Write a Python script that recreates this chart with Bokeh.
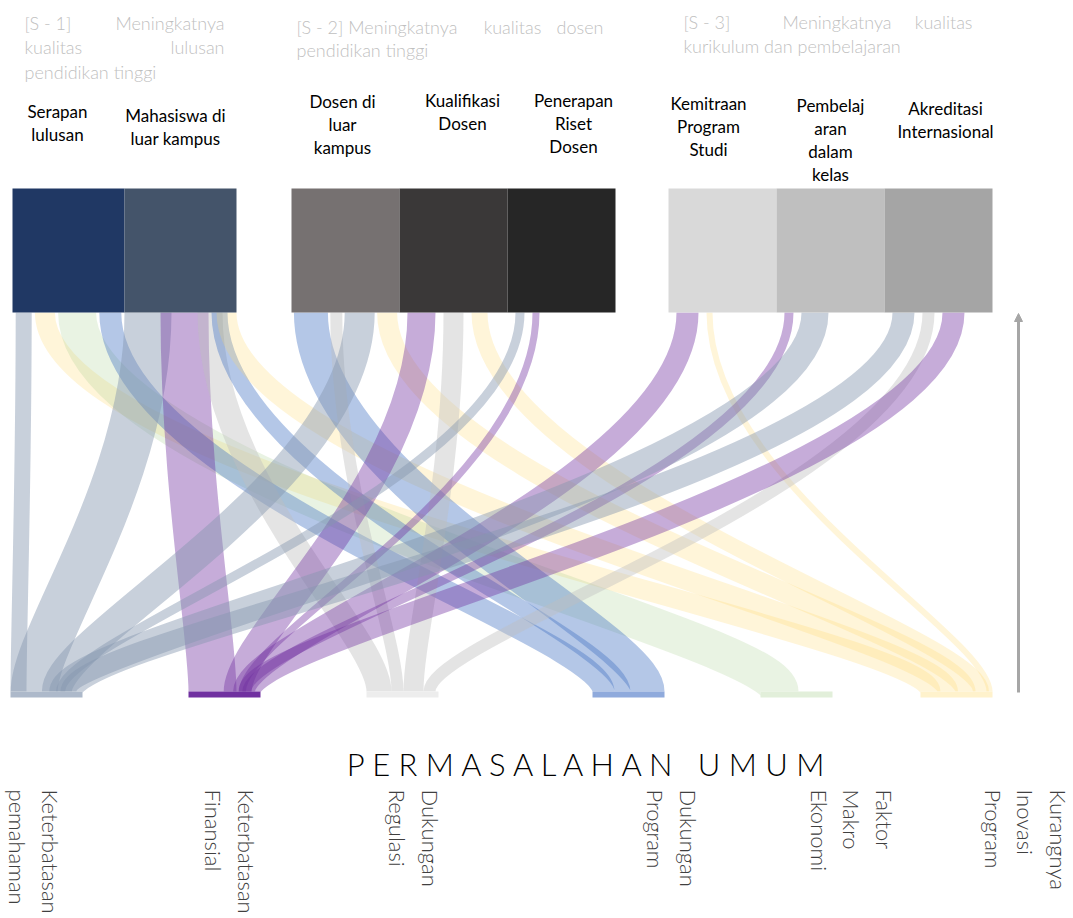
import numpy as np
from bokeh.plotting import figure
from bokeh.models import Range1d, ColumnDataSource, Arrow, NormalHead
from bokeh.core.properties import value
from bokeh.embed import file_html
from bokeh.resources import INLINE

# ---------------- data ----------------
group_titles = [
    "[S - 1] Meningkatnya kualitas lulusan pendidikan tinggi",
    "[S - 2] Meningkatnya kualitas dosen pendidikan tinggi",
    "[S - 3] Meningkatnya kualitas kurikulum dan pembelajaran",
]
sources = ["Serapan\nlulusan", "Mahasiswa di\nluar kampus", "Dosen di\nluar\nkampus",
           "Kualifikasi\nDosen", "Penerapan\nRiset\nDosen", "Kemitraan\nProgram\nStudi",
           "Pembelaj\naran\ndalam\nkelas", "Akreditasi\nInternasional"]
source_group = [0, 0, 1, 1, 1, 2, 2, 2]
targets = ["Keterbatasan\npemahaman", "Keterbatasan\nFinansial", "Dukungan\nRegulasi",
           "Dukungan\nProgram", "Faktor\nMakro\nEkonomi", "Kurangnya\nInovasi\nProgram"]
axis_title = "P E R M A S A L A H A N\u00a0\u00a0 U M U M"

link_source = [0, 0, 0, 0, 1, 1, 1, 1, 1, 2, 2, 2, 2, 3, 3, 3, 4, 4, 5, 5, 6, 6, 7, 7, 7]
link_target = [0, 5, 4, 3, 0, 1, 2, 3, 5, 3, 2, 0, 5, 1, 2, 5, 0, 1, 1, 5, 1, 0, 0, 2, 1]
link_value  = [16, 20, 38, 22, 47, 48, 25, 16, 20, 34, 12, 30, 20, 28, 20, 16, 9, 7, 22, 6, 9, 27, 22, 12, 22]

# ---------------- styles / layout ----------------
source_colors = ["#203864", "#44546a", "#767171", "#3a3838", "#262626", "#d9d9d9", "#bfbfbf", "#a5a5a5"]
target_bar_colors = ["#adb9ca", "#7030a0", "#ededed", "#8faadc", "#e2efda", "#fff2cc"]
ribbon_colors = ["#8497b0", "#7030a0", "#bfbfbf", "#4472c4", "#a9d18e", "#ffd966"]
ribbon_alpha = [0.45, 0.4, 0.42, 0.4, 0.25, 0.25]

W, H = 1072, 917
SRC_TOP, SRC_BOT = 188, 312
TGT_TOP, TGT_BOT = 691, 697
group_x0 = [12, 291, 668]
group_node_w = [112, 108, 108]
target_x0 = [10, 188, 366, 592, 760, 920]
target_w = 72
SCALE = 1.0
MAX_GAP = 8
label_x = [57, 175, 342, 462, 573, 708, 830, 945]
label_top = [100, 104, 90, 89, 89, 92, 94, 97]
target_label_x = [63, 259, 443, 701, 897, 1071]

# node x positions
src_x0 = []
counter = {}
for i, g in enumerate(source_group):
    k = counter.get(g, 0)
    src_x0.append(group_x0[g] + k * group_node_w[g])
    counter[g] = k + 1
src_w = [group_node_w[g] for g in source_group]


def distribute(x0, w, vals, flush_left=False):
    tot = sum(vals)
    n = len(vals)
    if n == 1 or (tot <= w and flush_left):
        gap, x = 0.0, x0
    elif tot <= w:
        gap = min((w - tot) / (n + 1), MAX_GAP)
        x = x0 + gap
    else:
        gap = (w - tot) / (n - 1)
        x = x0
    out = []
    for v in vals:
        out.append(x + v / 2)
        x += v + gap
    return out


n_links = len(link_value)
widths = [v * SCALE for v in link_value]
xs = [0.0] * n_links
xt = [0.0] * n_links
for s in range(len(sources)):
    idx = [i for i in range(n_links) if link_source[i] == s]
    cs = distribute(src_x0[s], src_w[s], [widths[i] for i in idx])
    for i, c in zip(idx, cs):
        xs[i] = c
for t in range(len(targets)):
    idx = [i for i in range(n_links) if link_target[i] == t]
    idx.sort(key=lambda i: xs[i])
    ct = distribute(target_x0[t], target_w, [widths[i] for i in idx], flush_left=True)
    for i, c in zip(idx, ct):
        xt[i] = c

links = ColumnDataSource(dict(
    x0=xs, y0=[SRC_BOT] * n_links, x1=xt, y1=[TGT_TOP] * n_links,
    cx0=xs, cy0=[SRC_BOT + 0.45 * (TGT_TOP - SRC_BOT)] * n_links,
    cx1=xt, cy1=[TGT_TOP - 0.15 * (TGT_TOP - SRC_BOT)] * n_links,
    w=widths,
    color=[ribbon_colors[t] for t in link_target],
    alpha=[ribbon_alpha[t] for t in link_target],
))

p = figure(width=W, height=H, x_range=Range1d(0, W), y_range=Range1d(H, 0),
           output_backend="svg", toolbar_location=None, x_axis_type=None, y_axis_type=None,
           min_border=0)
p.grid.visible = False
p.outline_line_color = None

# ribbons
p.bezier(x0="x0", y0="y0", x1="x1", y1="y1", cx0="cx0", cy0="cy0", cx1="cx1", cy1="cy1",
         line_width="w", line_color="color", line_alpha="alpha", source=links)

# source nodes
p.quad(left=src_x0, right=[a + b for a, b in zip(src_x0, src_w)], top=SRC_TOP, bottom=SRC_BOT,
       fill_color=source_colors, line_color=None)
# target bars
p.quad(left=target_x0, right=[a + target_w for a in target_x0], top=TGT_TOP, bottom=TGT_BOT,
       fill_color=target_bar_colors, line_color=None)

# arrow
p.add_layout(Arrow(x_start=1018, y_start=692, x_end=1018, y_end=313, line_color="#a6a6a6",
                   line_width=3, end=NormalHead(size=8, fill_color="#a6a6a6", line_color="#a6a6a6")))

LIGHT = value("'Lato Light', Lato")
# source labels
p.text(x=label_x, y=label_top, text=sources,
       text_align="center", text_baseline="top", text_font=value("Lato"),
       text_font_size="17px", text_line_height=1.1, text_color="black")

# group titles (justified lines approximated)
words = [t.split(" ") for t in group_titles]
hdr = [
    (" ".join(words[0][0:3]), 24, 22, "left"), (words[0][3], 224, 22, "right"),
    (words[0][4], 24, 46, "left"), (words[0][5], 224, 46, "right"),
    (" ".join(words[0][6:]), 24, 71, "left"),
    (" ".join(words[1][0:4]), 296, 26, "left"), (words[1][4], 512, 26, "center"),
    (words[1][5], 603, 26, "right"),
    (" ".join(words[1][6:]), 296, 49, "left"),
    (" ".join(words[2][0:3]), 683, 21, "left"), (words[2][3], 782, 21, "left"),
    (words[2][4], 972, 21, "right"), (" ".join(words[2][5:]), 683, 45, "left"),
]
for txt, x, y, al in hdr:
    p.text(x=[x], y=[y], text=[txt], text_align=al, text_baseline="middle", text_font=LIGHT,
           text_font_size="18px", text_color="#bfbfbf")

# axis title
p.text(x=[590], y=[763], text=[axis_title], text_align="center", text_baseline="middle",
       text_font=LIGHT, text_font_size="31px", text_color="black")

# target labels (rotated)
p.text(x=target_label_x, y=[789] * len(targets), text=targets, angle=-np.pi / 2,
       text_align="left", text_baseline="top", text_font=LIGHT, text_font_size="22px",
       text_line_height=1.2, text_color="#404040")

open("out.html", "w").write(file_html(p, INLINE))
